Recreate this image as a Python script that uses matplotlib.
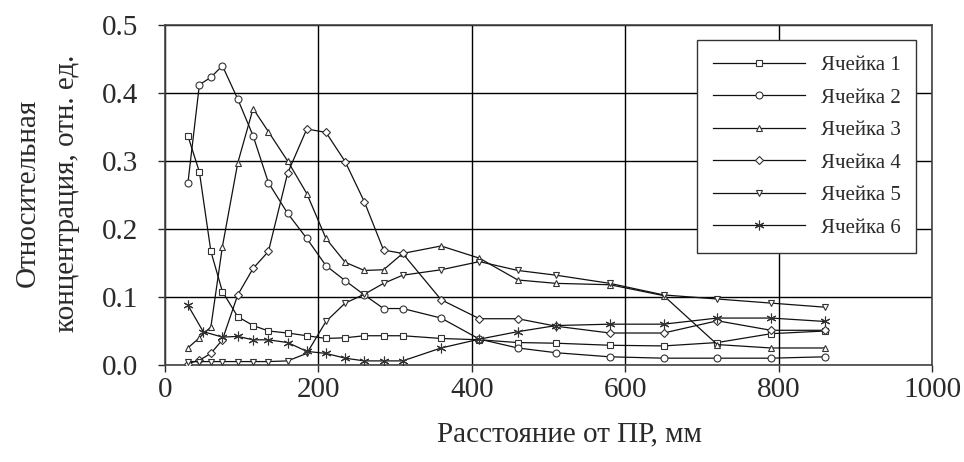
import matplotlib
matplotlib.use("Agg")
import matplotlib.pyplot as plt
from matplotlib.ticker import FormatStrFormatter

plt.rcParams['font.family'] = ['Liberation Serif', 'DejaVu Serif']

x_common = [30, 45, 60, 75, 95, 115, 135, 160, 185, 210, 235, 260, 285, 310,
            360, 410, 460, 510, 580, 650, 720, 790, 860]

cell1 = [0.337, 0.284, 0.167, 0.108, 0.071, 0.058, 0.050, 0.047, 0.043, 0.039, 0.040, 0.043, 0.043, 0.043,
         0.039, 0.037, 0.033, 0.032, 0.029, 0.028, 0.033, 0.046, 0.050]
cell2 = [0.267, 0.412, 0.423, 0.440, 0.391, 0.337, 0.268, 0.223, 0.186, 0.146, 0.124, 0.103, 0.083, 0.083,
         0.069, 0.038, 0.025, 0.018, 0.012, 0.010, 0.010, 0.010, 0.012]
cell3 = [0.025, 0.040, 0.056, 0.174, 0.297, 0.377, 0.343, 0.300, 0.252, 0.186, 0.151, 0.139, 0.140, 0.164,
         0.175, 0.157, 0.125, 0.120, 0.118, 0.102, 0.030, 0.025, 0.025]
cell4 = [0.002, 0.007, 0.017, 0.037, 0.103, 0.142, 0.167, 0.282, 0.347, 0.342, 0.299, 0.240, 0.169, 0.164,
         0.096, 0.068, 0.068, 0.057, 0.047, 0.047, 0.065, 0.051, 0.051]
cell5 = [0.005, 0.005, 0.005, 0.005, 0.005, 0.005, 0.005, 0.006, 0.017, 0.064, 0.091, 0.104, 0.120, 0.132,
         0.140, 0.152, 0.139, 0.132, 0.120, 0.103, 0.097, 0.091, 0.085]
x_cell6 = [30, 50, 75, 95, 115, 135, 160, 185, 210, 235, 260, 285, 310,
           360, 410, 460, 510, 580, 650, 720, 790, 860]
cell6 = [0.088, 0.049, 0.041, 0.042, 0.037, 0.037, 0.033, 0.020, 0.017, 0.010, 0.006, 0.006, 0.006,
         0.025, 0.038, 0.049, 0.058, 0.060, 0.060, 0.069, 0.069, 0.064]

labels = ['Ячейка 1', 'Ячейка 2', 'Ячейка 3', 'Ячейка 4', 'Ячейка 5', 'Ячейка 6']
x_ticks = [0, 200, 400, 600, 800, 1000]
y_ticks = [0.0, 0.1, 0.2, 0.3, 0.4, 0.5]

TXT = '#2a2a2a'
fig = plt.figure(figsize=(9.64, 4.62), dpi=100)
ax = fig.add_axes([0.171, 0.21, 0.796, 0.736])

series = [(x_common, cell1, 's', 5), (x_common, cell2, 'o', 5), (x_common, cell3, '^', 5),
          (x_common, cell4, 'D', 4), (x_common, cell5, 'v', 5), (x_cell6, cell6, (6, 2, 0), 7)]
for (xs, ys, m, ms), lab in zip(series, labels):
    ax.plot(xs, ys, color='#111111', lw=0.9, marker=m, markersize=ms,
            markerfacecolor='white', markeredgecolor='#333333', markeredgewidth=0.8,
            label=lab, zorder=3)

ax.set_xlim(0, 1000)
ax.set_ylim(0, 0.5)
ax.set_xticks(x_ticks)
ax.set_yticks(y_ticks)
ax.yaxis.set_major_formatter(FormatStrFormatter('%.1f'))
ax.grid(True, color='black', lw=1.0)
ax.set_axisbelow(True)
for s in ax.spines.values():
    s.set_color('#444444')
    s.set_linewidth(1.2)
ax.tick_params(axis='both', labelsize=21, length=5, width=1, colors=TXT, labelcolor=TXT)
ax.tick_params(axis='y', pad=14)
ax.tick_params(axis='x', pad=4)

ax.set_xlabel('Расстояние от ПР, мм', fontsize=21, color=TXT)
ax.xaxis.set_label_coords(0.527, -0.165)
ax.set_ylabel('Относительная\nконцентрация, отн. ед.', fontsize=21, color=TXT,
              linespacing=1.7)
ax.yaxis.set_label_coords(-0.11, 0.505)

leg = ax.legend(loc='upper right', bbox_to_anchor=(0.979, 0.956), fontsize=15,
                handlelength=4.4, handletextpad=0.77, labelspacing=0.62,
                borderpad=0.75, borderaxespad=0.0, fancybox=False, framealpha=1,
                edgecolor='#333333')
for t in leg.get_texts():
    t.set_color(TXT)
leg.get_frame().set_linewidth(1.0)
leg.set_zorder(5)

fig.savefig('out.png', dpi=100)
